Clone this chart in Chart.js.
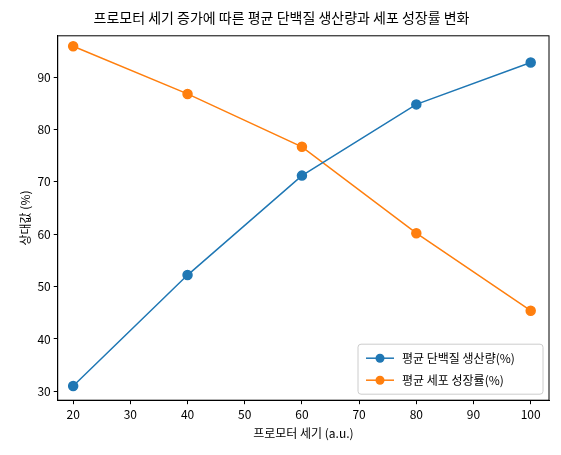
<!DOCTYPE html>
<html><head><meta charset="utf-8">
<script src="https://cdn.jsdelivr.net/npm/chart.js@4"></script>
<style>html,body{margin:0;padding:0;background:#fff}#w{width:561px;height:455px}</style>
</head><body><div id="w"><canvas id="c"></canvas></div>
<script>
const xValues=[20,40,60,80,100];
const proteinSeries=[31.0,52.2,71.2,84.8,92.8];
const growthSeries=[95.9,86.8,76.7,60.2,45.4];
const xTicks=[20,30,40,50,60,70,80,90,100];
const yTicks=[30,40,50,60,70,80,90];
const seriesNames=['평균 단백질 생산량(%)','평균 세포 성장률(%)'];
const F='"Noto Sans CJK KR","Noto Sans",sans-serif';
Chart.defaults.font.family=F;Chart.defaults.color='#000';
const frame={id:'frame',afterDraw(ch){const a=ch.chartArea,c=ch.ctx;c.save();c.strokeStyle='#000';c.lineWidth=1;c.strokeRect(a.left,a.top,a.right-a.left,a.bottom-a.top);
const w=185,h=50,x=a.right-w-6,y=a.bottom-h-6;c.fillStyle='rgba(255,255,255,0.8)';c.strokeStyle='#ccc';c.beginPath();c.roundRect(x,y,w,h,3);c.fill();c.stroke();
ch.data.datasets.forEach((d,i)=>{const yy=y+14+i*22;c.strokeStyle=d.borderColor;c.lineWidth=1.5;c.beginPath();c.moveTo(x+8,yy);c.lineTo(x+36,yy);c.stroke();c.fillStyle=d.borderColor;c.beginPath();c.arc(x+22,yy,4.5,0,Math.PI*2);c.fill();c.fillStyle='#000';c.font='12px '+F;c.textBaseline='middle';c.fillText(d.label,x+44,yy);});
c.restore();}};
const grid={display:true,drawOnChartArea:false,drawTicks:true,tickLength:4,color:'#000'};
new Chart(document.getElementById('c'),{type:'line',
data:{datasets:[
{label:seriesNames[0],data:xValues.map((x,i)=>({x,y:proteinSeries[i]})),borderColor:'#1f77b4',backgroundColor:'#1f77b4',borderWidth:1.5,pointRadius:4.5,pointHoverRadius:4.5},
{label:seriesNames[1],data:xValues.map((x,i)=>({x,y:growthSeries[i]})),borderColor:'#ff7f0e',backgroundColor:'#ff7f0e',borderWidth:1.5,pointRadius:4.5,pointHoverRadius:4.5}]},
options:{responsive:true,maintainAspectRatio:false,animation:false,
layout:{padding:{left:14,right:12,top:7,bottom:10}},
plugins:{legend:{display:false},tooltip:{enabled:false},title:{display:true,text:'프로모터 세기 증가에 따른 평균 단백질 생산량과 세포 성장률 변화',font:{size:14,weight:'normal'},padding:{top:2,bottom:10}}},
scales:{
x:{type:'linear',min:17.3,max:103.2,afterBuildTicks(s){s.ticks=xTicks.map(v=>({value:v}))},grid,border:{color:'#000'},ticks:{font:{size:12},padding:3},title:{display:true,text:'프로모터 세기 (a.u.)',font:{size:12},padding:{top:2}}},
y:{min:28.3,max:97.9,afterBuildTicks(s){s.ticks=yTicks.map(v=>({value:v}))},grid,border:{color:'#000'},ticks:{font:{size:12},padding:3},title:{display:true,text:'상대값 (%)',font:{size:12},padding:{bottom:2}}}}},
plugins:[frame]});
</script></body></html>
